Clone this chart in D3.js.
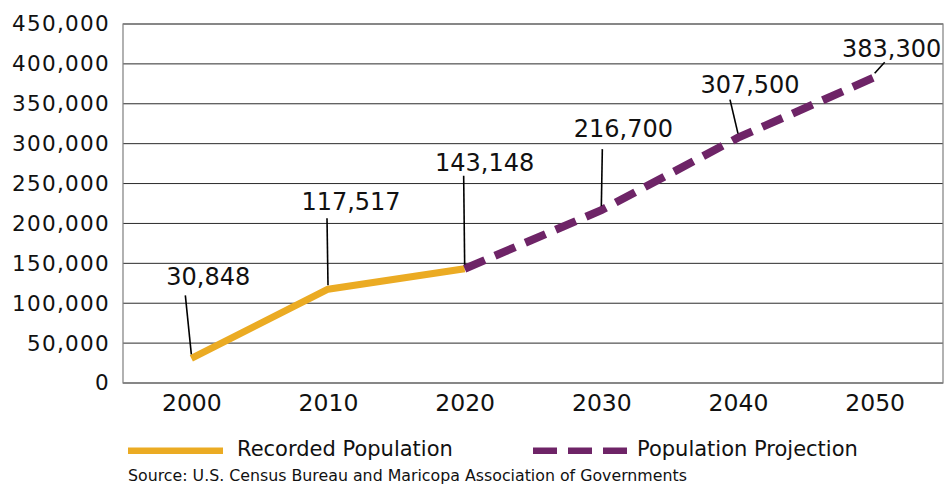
<!DOCTYPE html>
<html>
<head>
<meta charset="utf-8">
<script src="https://cdn.jsdelivr.net/npm/d3@7"></script>
<style>
  html, body { margin: 0; padding: 0; background: #fff; }
  svg { display: block; font-family: "DejaVu Sans", "Open Sans", sans-serif; }
</style>
</head>
<body>
<svg id="chart" width="946" height="485"></svg>
<script>
// Population by decade: recorded census counts and projections
const years = ["2000", "2010", "2020", "2030", "2040", "2050"];
const recordedYears = ["2000", "2010", "2020"];
const recordedValues = [30848, 117517, 143148];
const projectedYears = ["2020", "2030", "2040", "2050"];
const projectedValues = [143148, 216700, 307500, 383300];
const yTicks = [0, 50000, 100000, 150000, 200000, 250000, 300000, 350000, 400000, 450000];
const legendLabels = ["Recorded Population", "Population Projection"];
const sourceText = "Source: U.S. Census Bureau and Maricopa Association of Governments";

// Label placement relative to each point:
// (tx, ty) = label centre / baseline, (lx, ly) = top end of the leader line
const labelPlacement = [
  { year: "2000", value: 30848,  tx: 17, ty: -73, lx: -6, ly: -63 },
  { year: "2010", value: 117517, tx: 23, ty: -79, lx: -1, ly: -71 },
  { year: "2020", value: 143148, tx: 20, ty: -98, lx: -1, ly: -93 },
  { year: "2030", value: 216700, tx: 22, ty: -73, lx: 1,  ly: -61 },
  { year: "2040", value: 307500, tx: 12, ty: -45, lx: -8, ly: -38 },
  { year: "2050", value: 383300, tx: 17, ty: -20, lx: 10, ly: -15 }
];

const svg = d3.select("#chart");
const margin = { left: 123, right: 3, top: 24, bottom: 102 };
const W = 946, H = 485;
const plotW = W - margin.left - margin.right;
const plotH = H - margin.top - margin.bottom;

const x = d3.scalePoint().domain(years).range([margin.left, margin.left + plotW]).padding(0.5);
const y = d3.scaleLinear().domain([0, 450000]).range([margin.top + plotH, margin.top]);
const fmt = d3.format(",");

const ink = "#111";

// Gridlines
svg.append("g")
  .selectAll("line")
  .data(yTicks)
  .join("line")
  .attr("x1", margin.left).attr("x2", margin.left + plotW)
  .attr("y1", d => y(d)).attr("y2", d => y(d))
  .attr("stroke", "#2b2b2b").attr("stroke-width", 1);

// Plot frame
svg.append("rect")
  .attr("x", margin.left).attr("y", margin.top)
  .attr("width", plotW).attr("height", plotH)
  .attr("fill", "none").attr("stroke", "#7f7f7f").attr("stroke-width", 1.2);

// Y axis
const yAxis = svg.append("g")
  .attr("transform", `translate(${margin.left},0)`)
  .call(d3.axisLeft(y).tickValues(yTicks).tickFormat(d => fmt(d)).tickSize(0).tickPadding(13));
yAxis.select(".domain").remove();
yAxis.selectAll("text")
  .attr("font-size", 21.5).attr("letter-spacing", 1.3).attr("fill", ink)
  .attr("font-family", "DejaVu Sans, sans-serif");

// X axis
const xAxis = svg.append("g")
  .attr("transform", `translate(0,${margin.top + plotH})`)
  .call(d3.axisBottom(x).tickSize(0).tickPadding(11));
xAxis.select(".domain").remove();
xAxis.selectAll("text")
  .attr("font-size", 23.5).attr("fill", ink)
  .attr("font-family", "DejaVu Sans, sans-serif");

const orange = "#ebab23";
const purple = "#6e2467";

const line = d3.line().x(d => x(d[0])).y(d => y(d[1]));

// Recorded line
svg.append("path")
  .datum(d3.zip(recordedYears, recordedValues))
  .attr("d", line)
  .attr("fill", "none")
  .attr("stroke", orange)
  .attr("stroke-width", 7)
  .attr("stroke-linejoin", "round");

// Projection line (dashed)
svg.append("path")
  .datum(d3.zip(projectedYears, projectedValues))
  .attr("d", line)
  .attr("fill", "none")
  .attr("stroke", purple)
  .attr("stroke-width", 8)
  .attr("stroke-dasharray", "22,11");

// Data labels with leader lines
const lbl = svg.append("g");
labelPlacement.forEach(d => {
  const px = x(d.year), py = y(d.value);
  lbl.append("line")
    .attr("x1", px + d.lx).attr("y1", py + d.ly)
    .attr("x2", px).attr("y2", py - 4)
    .attr("stroke", "#000").attr("stroke-width", 1.6);
  lbl.append("text")
    .attr("x", px + d.tx).attr("y", py + d.ty)
    .attr("text-anchor", "middle")
    .attr("font-size", 24).attr("fill", ink)
    .text(fmt(d.value));
});

// Legend
const legY = 450.7;
const leg = svg.append("g");
leg.append("line")
  .attr("x1", 128).attr("x2", 223).attr("y1", legY).attr("y2", legY)
  .attr("stroke", orange).attr("stroke-width", 6.5);
leg.append("text")
  .attr("x", 237).attr("y", 455.5)
  .attr("font-size", 21).attr("fill", ink)
  .text(legendLabels[0]);
leg.append("line")
  .attr("x1", 533).attr("x2", 627).attr("y1", legY).attr("y2", legY)
  .attr("stroke", purple).attr("stroke-width", 6.6)
  .attr("stroke-dasharray", "24,11");
leg.append("text")
  .attr("x", 637).attr("y", 455.5)
  .attr("font-size", 21).attr("fill", ink)
  .text(legendLabels[1]);

// Source note
svg.append("text")
  .attr("x", 128).attr("y", 480.5)
  .attr("font-size", 15.8).attr("fill", ink)
  .text(sourceText);
</script>
</body>
</html>
